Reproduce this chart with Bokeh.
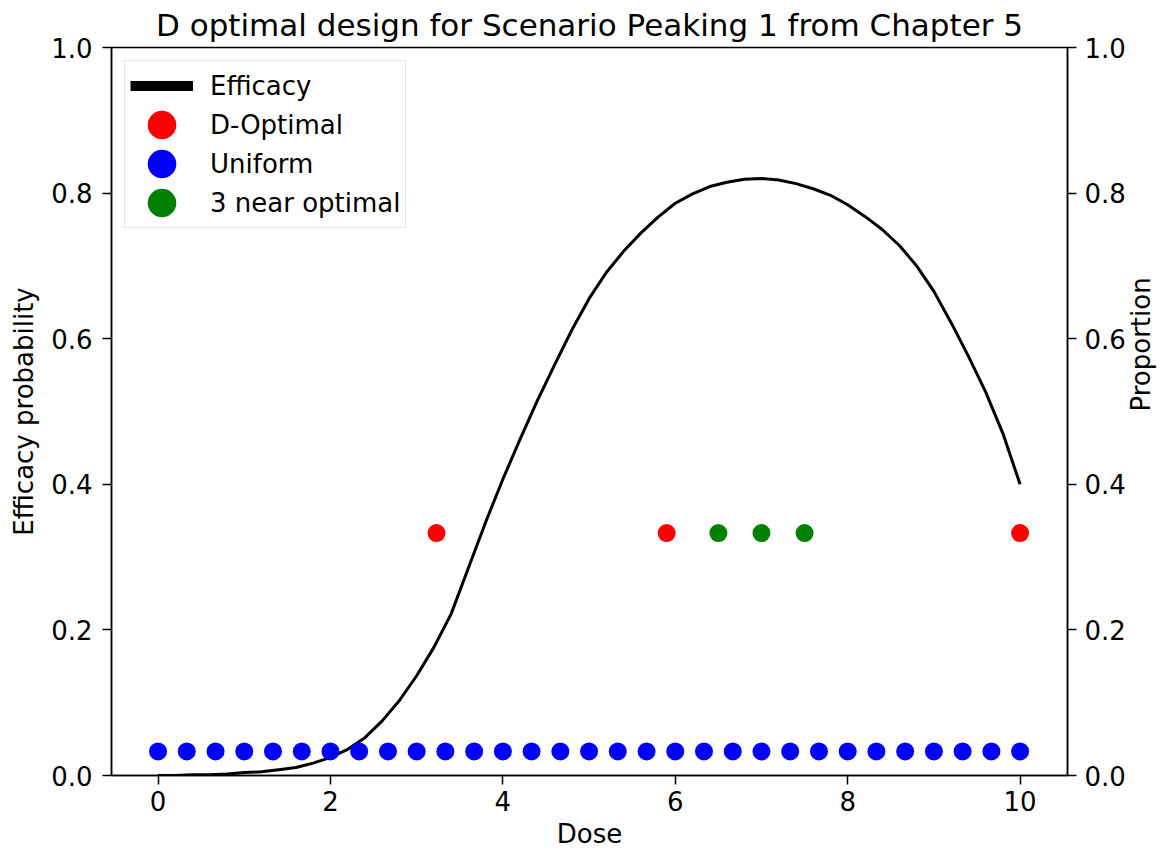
import math
from bokeh.plotting import figure
from bokeh.models import (Range1d, LinearAxis, FixedTicker, PrintfTickFormatter,
                          Legend, LegendItem)
from bokeh.embed import file_html
from bokeh.resources import INLINE

# ---------------- data ----------------
dose_grid = [0.0, 0.2, 0.4, 0.6, 0.8, 1.0, 1.2, 1.4, 1.6, 1.8,
             2.0, 2.2, 2.4, 2.6, 2.8, 3.0, 3.2, 3.4, 3.6, 3.8,
             4.0, 4.2, 4.4, 4.6, 4.8, 5.0, 5.2, 5.4, 5.6, 5.8,
             6.0, 6.2, 6.4, 6.6, 6.8, 7.0, 7.2, 7.4, 7.6, 7.8,
             8.0, 8.2, 8.4, 8.6, 8.8, 9.0, 9.2, 9.4, 9.6, 9.8, 10.0]
efficacy = [0.000, 0.000, 0.001, 0.001, 0.002, 0.004, 0.005, 0.008, 0.011, 0.017,
            0.025, 0.036, 0.052, 0.075, 0.103, 0.137, 0.176, 0.222, 0.285, 0.348,
            0.407, 0.462, 0.515, 0.564, 0.612, 0.655, 0.691, 0.720, 0.745, 0.767,
            0.786, 0.799, 0.809, 0.815, 0.819, 0.820, 0.818, 0.813, 0.806, 0.797,
            0.784, 0.768, 0.750, 0.728, 0.700, 0.665, 0.622, 0.576, 0.527, 0.470, 0.400]

dopt_doses = [3.23, 5.9, 10.0]
dopt_props = [0.333, 0.333, 0.333]

uniform_doses = [0.0, 0.333, 0.667, 1.0, 1.333, 1.667, 2.0, 2.333, 2.667, 3.0,
                 3.333, 3.667, 4.0, 4.333, 4.667, 5.0, 5.333, 5.667, 6.0, 6.333,
                 6.667, 7.0, 7.333, 7.667, 8.0, 8.333, 8.667, 9.0, 9.333, 9.667, 10.0]
uniform_props = [0.033] * len(uniform_doses)

near_doses = [6.5, 7.0, 7.5]
near_props = [0.333, 0.333, 0.333]

x_ticks = [0, 2, 4, 6, 8, 10]
y_ticks = [0.0, 0.2, 0.4, 0.6, 0.8, 1.0]

title_text = "D optimal design for Scenario Peaking 1 from Chapter 5"
FONT = "DejaVu Sans"

# ---------------- figure ----------------
p = figure(frame_width=956, frame_height=728,
           x_range=Range1d(-0.54, 10.55), y_range=Range1d(0, 1),
           output_backend="svg", toolbar_location=None,
           min_border_left=111, min_border_right=99,
           min_border_top=47, min_border_bottom=80,
           title=title_text)
p.extra_y_ranges = {"prop": Range1d(0, 1)}
p.add_layout(LinearAxis(y_range_name="prop", axis_label="Proportion"), "right")

p.title.text_font = FONT
p.title.text_font_size = "31px"
p.title.text_font_style = "normal"
p.title.text_color = "black"
p.title.align = "center"
p.title.standoff = 9

p.xgrid.visible = False
p.ygrid.visible = False
p.outline_line_color = "black"
p.outline_line_width = 1.5
p.outline_line_alpha = 1.0
p.background_fill_color = "white"
p.border_fill_color = "white"

p.xaxis.axis_label = "Dose"
p.yaxis[0].axis_label = "Efficacy probability"
p.xaxis.ticker = FixedTicker(ticks=x_ticks)
p.xaxis.formatter = PrintfTickFormatter(format="%d")
for ax in p.yaxis:
    ax.ticker = FixedTicker(ticks=y_ticks)
    ax.formatter = PrintfTickFormatter(format="%.1f")

for ax in list(p.xaxis) + list(p.yaxis):
    ax.axis_line_color = "black"
    ax.axis_line_width = 1.5
    ax.major_tick_line_color = "black"
    ax.major_tick_line_width = 1.5
    ax.major_tick_out = 9
    ax.major_tick_in = 0
    ax.minor_tick_out = 0
    ax.minor_tick_in = 0
    ax.major_label_text_font = FONT
    ax.major_label_text_font_size = "26px"
    ax.major_label_text_color = "black"
    ax.axis_label_text_font = FONT
    ax.axis_label_text_font_size = "26px"
    ax.axis_label_text_font_style = "normal"
    ax.axis_label_text_color = "black"

p.xaxis.major_label_standoff = 6
p.xaxis.axis_label_standoff = 5
p.yaxis[0].major_label_standoff = 10
p.yaxis[0].axis_label_standoff = 9
p.yaxis[1].major_label_standoff = 8
p.yaxis[1].axis_label_standoff = 12
p.yaxis[1].axis_label_orientation = math.pi / 2

# ---------------- glyphs ----------------
p.line(dose_grid, efficacy, line_color="black", line_width=3)
p.scatter(dopt_doses, dopt_props, y_range_name="prop", size=18,
          fill_color="#ff0000", line_color=None)
p.scatter(uniform_doses, uniform_props, y_range_name="prop", size=18,
          fill_color="#0000ff", line_color=None)
p.scatter(near_doses, near_props, y_range_name="prop", size=18,
          fill_color="#008000", line_color=None)

# legend-only renderers (bigger legend symbols, as in the reference)
nan = float("nan")
leg_line = p.line([nan], [nan], line_color="black", line_width=10)
leg_r = p.scatter([nan], [nan], size=15, fill_color="#ff0000", line_color="#ff0000", line_width=13)
leg_b = p.scatter([nan], [nan], size=15, fill_color="#0000ff", line_color="#0000ff", line_width=13)
leg_g = p.scatter([nan], [nan], size=15, fill_color="#008000", line_color="#008000", line_width=13)

legend = Legend(items=[
    LegendItem(label="Efficacy", renderers=[leg_line]),
    LegendItem(label="D-Optimal", renderers=[leg_r]),
    LegendItem(label="Uniform", renderers=[leg_b]),
    LegendItem(label="3 near optimal", renderers=[leg_g]),
], location="top_left")
legend.margin = 13
legend.padding = 5
legend.spacing = 0
legend.glyph_width = 63
legend.glyph_height = 39
legend.label_height = 39
legend.label_standoff = 17
legend.label_text_font = FONT
legend.label_text_font_size = "26px"
legend.label_text_color = "black"
legend.border_line_color = "#cccccc"
legend.border_line_width = 1.5
legend.background_fill_color = "white"
legend.background_fill_alpha = 0.8
p.add_layout(legend)

open("out.html", "w").write(file_html(p, INLINE))
